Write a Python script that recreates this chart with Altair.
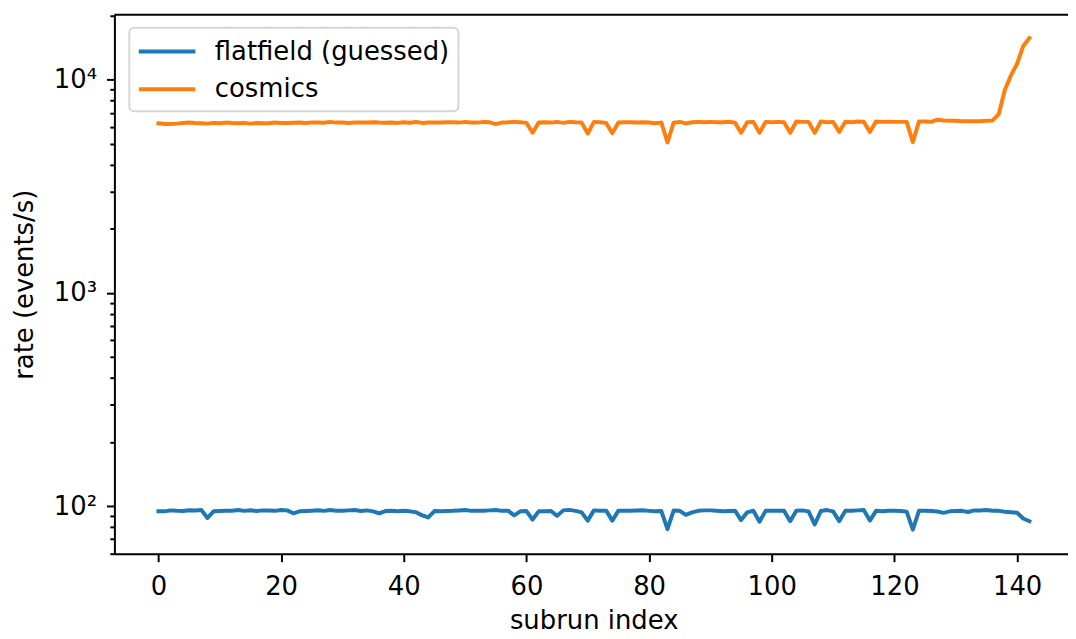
import altair as alt
import pandas as pd

subrun = list(range(143))

flatfield = [
    94.5, 94.5, 95.5, 95.0, 94.8, 95.6, 95.4, 95.8, 88.0, 94.5,
    94.8, 95.0, 95.2, 95.8, 95.0, 95.7, 94.8, 95.5, 95.4, 95.0,
    95.8, 95.5, 92.5, 94.5, 94.8, 95.2, 95.6, 95.0, 95.8, 95.2,
    95.0, 95.5, 95.8, 94.8, 95.5, 94.5, 92.5, 94.8, 95.0, 94.6,
    95.2, 94.5, 93.5, 90.5, 88.5, 94.8, 94.5, 94.8, 95.0, 95.4,
    95.8, 95.0, 95.0, 95.2, 95.5, 95.8, 95.0, 95.2, 90.5, 94.5,
    94.8, 86.5, 94.5, 94.5, 94.8, 90.0, 95.5, 96.0, 95.0, 93.5,
    85.5, 95.5, 95.0, 95.2, 85.5, 95.2, 95.2, 95.0, 95.3, 95.6,
    95.0, 94.5, 94.8, 78.0, 95.3, 95.0, 91.0, 93.5, 95.0, 95.5,
    95.5, 95.0, 94.5, 94.8, 95.2, 86.0, 93.5, 95.2, 84.5, 95.0,
    95.0, 95.2, 95.0, 85.0, 95.0, 95.5, 94.5, 82.0, 94.8, 95.8,
    94.5, 85.0, 95.0, 95.0, 95.5, 95.8, 85.5, 95.0, 94.5, 95.0,
    95.0, 94.8, 94.2, 77.5, 95.0, 95.0, 94.8, 94.3, 93.0, 94.5,
    94.8, 95.0, 93.8, 95.5, 95.3, 95.8, 95.2, 95.0, 94.0, 93.5,
    93.0, 87.5, 85.0,
]

cosmics = [
    6250, 6200, 6200, 6230, 6280, 6300, 6270, 6250, 6230, 6280,
    6250, 6300, 6270, 6260, 6280, 6230, 6270, 6250, 6260, 6300,
    6280, 6270, 6290, 6300, 6280, 6300, 6310, 6290, 6350, 6300,
    6310, 6280, 6300, 6310, 6300, 6320, 6300, 6290, 6310, 6280,
    6330, 6290, 6350, 6280, 6300, 6310, 6300, 6320, 6330, 6300,
    6350, 6310, 6300, 6350, 6320, 6200, 6300, 6320, 6350, 6330,
    6280, 5650, 6300, 6320, 6300, 6350, 6280, 6350, 6320, 6300,
    5600, 6350, 6330, 6280, 5620, 6300, 6330, 6320, 6300, 6330,
    6310, 6250, 6300, 5080, 6300, 6350, 6250, 6320, 6350, 6330,
    6350, 6320, 6330, 6360, 6300, 5650, 6330, 6350, 5650, 6350,
    6330, 6350, 6320, 5650, 6380, 6350, 6350, 5640, 6380, 6330,
    6350, 5700, 6360, 6330, 6380, 6360, 5700, 6370, 6350, 6360,
    6350, 6350, 6350, 5100, 6370, 6370, 6350, 6500, 6450, 6430,
    6420, 6400, 6390, 6400, 6400, 6420, 6450, 6900, 8950, 10500,
    11900, 14400, 15700,
]

series_names = ["flatfield (guessed)", "cosmics"]
series_colors = ["#1f77b4", "#ff7f0e"]

x_ticks = [0, 20, 40, 60, 80, 100, 120, 140]
y_ticks = ([60, 70, 80, 90] + [k * 100 for k in range(1, 10)]
           + [k * 1000 for k in range(1, 10)] + [10000, 20000])

rows = []
for i, v in zip(subrun, flatfield):
    rows.append({"subrun": i, "rate": v, "series": series_names[0]})
for i, v in zip(subrun, cosmics):
    rows.append({"subrun": i, "rate": v, "series": series_names[1]})
df = pd.DataFrame(rows)

FONT = "DejaVu Sans"
FS = 26
W, H = 959, 542

lines = alt.Chart(df).mark_line(strokeWidth=4, strokeJoin="round", strokeCap="square").encode(
    x=alt.X(
        "subrun:Q",
        scale=alt.Scale(domain=[-7.18, 148.3], nice=False, zero=False),
        axis=alt.Axis(
            values=x_ticks,
            title="subrun index",
            titleFont=FONT,
            titleFontSize=FS,
            titleFontWeight="normal",
            titleColor="black",
            titleBaseline="alphabetic",
            titleX=482,
            titleY=75,
            labelFont=FONT,
            labelFontSize=FS,
            labelColor="black",
            labelPadding=12,
            labelFlush=False,
            tickSize=8,
            tickWidth=2,
            tickColor="black",
            domainColor="black",
            domainWidth=2,
            grid=False,
        ),
    ),
    y=alt.Y(
        "rate:Q",
        scale=alt.Scale(type="log", domain=[59.8, 20200], nice=False),
        axis=alt.Axis(
            values=y_ticks,
            labelExpr="datum.value == 100 ? '10²' : datum.value == 1000 ? '10³' : datum.value == 10000 ? '10⁴' : ''",
            title="rate (events/s)",
            titleFont=FONT,
            titleFontSize=FS,
            titleFontWeight="normal",
            titleColor="black",
            titleBaseline="alphabetic",
            titleAngle=270,
            titleAlign="center",
            titleX=-82,
            titleY=H / 2,
            labelFont=FONT,
            labelFontSize=FS,
            labelColor="black",
            labelPadding=10,
            labelBaseline="middle",
            tickSize={"condition": {"test": "datum.value == 100 || datum.value == 1000 || datum.value == 10000", "value": 8}, "value": 4.6},
            tickWidth=2,
            tickColor="black",
            domainColor="black",
            domainWidth=2,
            grid=False,
        ),
    ),
    color=alt.Color(
        "series:N",
        scale=alt.Scale(domain=series_names, range=series_colors),
        legend=alt.Legend(
            title=None,
            orient="none",
            legendX=15,
            legendY=13,
            fillColor="white",
            strokeColor="#d6d6d6",
            cornerRadius=5,
            padding=9,
            symbolType="M-2.19,0H2.19",
            symbolSize=676,
            symbolStrokeWidth=4,
            symbolOffset=14,
            labelFont=FONT,
            labelFontSize=FS,
            labelColor="black",
            labelOffset=33,
            labelLimit=0,
            rowPadding=10,
        ),
    ),
)

top_spine = alt.Chart(alt.Data(values=[{"k": 1}])).mark_rule(color="black", strokeWidth=2).encode(
    x=alt.value(0), x2=alt.value(W + 10), y=alt.value(0)
)

chart = alt.layer(lines, top_spine).properties(
    width=W,
    height=H,
    autosize=alt.AutoSizeParams(type="none"),
    padding={"left": 107, "top": 5, "right": 0, "bottom": 86},
    background="white",
).configure_view(stroke=None).configure_legend(strokeWidth=2)

chart.save("out.html", embed_options={"renderer": "svg", "actions": False})
